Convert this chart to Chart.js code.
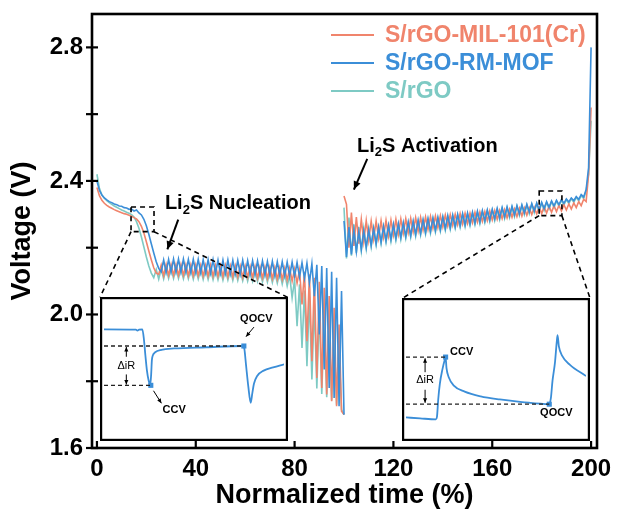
<!DOCTYPE html>
<html><head><meta charset="utf-8">
<script src="https://cdn.jsdelivr.net/npm/chart.js@4.4.1/dist/chart.umd.min.js"></script>
<style>
html,body{margin:0;padding:0;background:#fff;}
#wrap{position:relative;width:617px;height:516px;}
canvas{display:block;}
.inset{position:absolute;}
</style>
</head><body>
<div id="wrap"><canvas id="main" width="617" height="516"></canvas></div>
<script>
// ---------------- DATA ----------------
const seriesNames = ['S/rGO-MIL-101(Cr)', 'S/rGO-RM-MOF', 'S/rGO'];
const xTitle = 'Normalized time (%)';
const yTitle = 'Voltage (V)';
const xTickValues = [0, 40, 80, 120, 160, 200];
const yTickValues = [1.6, 1.8, 2.0, 2.2, 2.4, 2.6, 2.8];
const yLabelValues = [1.6, 2.0, 2.4, 2.8];

const dischargeX = [0,1,2,3,4,5,6,7,8,9,10,11,12,13,14,15,16,17,18,19,20,21,22,23,24,25,26,27,28,29,30,31,32,33,34,35,36,37,38,39,40,41,42,43,44,45,46,47,48,49,50,51,52,53,54,55,56,57,58,59,60,61,62,63,64,65,66,67,68,69,70,71,72,73,74,75,76,77,78,79,80,81,82,83,84,85,86,87,88,89,90,91,92,93,94,95,96,97,98,99,100];
const chargeX = [100,101,102,103,104,105,106,107,108,109,110,111,112,113,114,115,116,117,118,119,120,121,122,123,124,125,126,127,128,129,130,131,132,133,134,135,136,137,138,139,140,141,142,143,144,145,146,147,148,149,150,151,152,153,154,155,156,157,158,159,160,161,162,163,164,165,166,167,168,169,170,171,172,173,174,175,176,177,178,179,180,181,182,183,184,185,186,187,188,189,190,191,192,193,194,195,196,197,198,199,200];

const milDischarge = [2.380,2.356,2.342,2.333,2.327,2.322,2.318,2.314,2.311,2.308,
 2.305,2.302,2.300,2.297,2.294,2.290,2.286,2.278,2.264,2.244,
 2.218,2.190,2.164,2.140,2.124,2.120,2.148,2.116,2.150,2.117,
 2.150,2.117,2.150,2.117,2.150,2.117,2.149,2.116,2.149,2.116,
 2.149,2.116,2.148,2.115,2.148,2.115,2.148,2.114,2.147,2.114,
 2.147,2.113,2.147,2.113,2.146,2.112,2.146,2.112,2.145,2.111,
 2.145,2.111,2.144,2.110,2.144,2.109,2.143,2.109,2.143,2.108,
 2.142,2.107,2.141,2.106,2.140,2.105,2.139,2.103,2.138,2.100,
 2.136,2.094,2.133,2.030,2.128,1.920,2.120,1.860,2.110,1.810,
 2.098,1.780,2.080,1.760,2.055,1.740,2.020,1.725,1.970,1.710,
 1.700];
const rmDischarge = [2.400,2.372,2.358,2.349,2.343,2.338,2.335,2.331,2.329,2.325,
 2.324,2.320,2.319,2.315,2.316,2.310,2.313,2.304,2.298,2.285,
 2.266,2.240,2.212,2.184,2.158,2.138,2.128,2.163,2.126,2.165,
 2.127,2.166,2.127,2.166,2.127,2.166,2.127,2.165,2.126,2.165,
 2.126,2.165,2.125,2.164,2.125,2.164,2.124,2.164,2.124,2.163,
 2.123,2.163,2.123,2.163,2.122,2.162,2.122,2.162,2.121,2.162,
 2.121,2.161,2.120,2.161,2.120,2.160,2.119,2.160,2.119,2.159,
 2.118,2.159,2.117,2.158,2.117,2.158,2.116,2.157,2.115,2.157,
 2.114,2.156,2.112,2.155,2.108,2.154,2.095,2.152,2.055,2.149,
 1.940,2.145,1.835,2.139,1.780,2.128,1.750,2.110,1.725,2.070,
 1.700];
const rgoDischarge = [2.420,2.378,2.358,2.348,2.341,2.335,2.330,2.325,2.321,2.317,
 2.313,2.310,2.306,2.303,2.299,2.292,2.278,2.258,2.232,2.202,
 2.172,2.145,2.124,2.110,2.135,2.106,2.137,2.107,2.138,2.108,
 2.138,2.108,2.138,2.108,2.137,2.107,2.137,2.107,2.136,2.106,
 2.136,2.106,2.135,2.105,2.135,2.105,2.134,2.104,2.134,2.104,
 2.133,2.103,2.133,2.103,2.132,2.102,2.132,2.102,2.131,2.101,
 2.131,2.100,2.130,2.100,2.130,2.099,2.129,2.098,2.129,2.097,
 2.128,2.096,2.127,2.094,2.126,2.091,2.124,2.085,2.118,2.050,
 2.105,1.965,2.090,1.900,2.072,1.845,2.052,1.805,2.032,1.778,
 2.012,1.762,1.992,1.752,1.965,1.742,1.935,1.730,1.895,1.715,
 1.700];

const milCharge = [2.355,2.330,2.200,2.305,2.205,2.292,2.212,2.285,2.218,2.281,
 2.222,2.280,2.226,2.280,2.229,2.281,2.232,2.282,2.235,2.283,
 2.238,2.285,2.240,2.286,2.243,2.287,2.245,2.288,2.248,2.290,
 2.250,2.291,2.253,2.292,2.255,2.294,2.258,2.295,2.260,2.296,
 2.262,2.298,2.265,2.299,2.267,2.300,2.269,2.302,2.271,2.303,
 2.273,2.304,2.275,2.306,2.277,2.307,2.279,2.308,2.281,2.310,
 2.283,2.311,2.285,2.312,2.287,2.314,2.289,2.315,2.291,2.316,
 2.293,2.318,2.295,2.319,2.297,2.320,2.299,2.321,2.301,2.322,
 2.302,2.323,2.304,2.324,2.306,2.326,2.308,2.327,2.310,2.329,
 2.313,2.331,2.316,2.334,2.320,2.338,2.326,2.345,2.338,2.420,
 2.620];
const rmCharge = [2.280,2.172,2.262,2.180,2.252,2.188,2.248,2.195,2.250,2.201,
 2.253,2.207,2.257,2.212,2.261,2.217,2.264,2.221,2.267,2.225,
 2.270,2.228,2.272,2.231,2.275,2.234,2.277,2.237,2.280,2.240,
 2.282,2.243,2.284,2.246,2.287,2.249,2.289,2.252,2.291,2.254,
 2.293,2.257,2.296,2.260,2.298,2.263,2.300,2.266,2.302,2.268,
 2.304,2.271,2.306,2.274,2.309,2.277,2.311,2.280,2.313,2.283,
 2.315,2.286,2.318,2.289,2.320,2.292,2.322,2.295,2.324,2.298,
 2.326,2.301,2.328,2.304,2.330,2.307,2.332,2.310,2.334,2.313,
 2.336,2.317,2.338,2.321,2.340,2.325,2.342,2.329,2.344,2.333,
 2.346,2.337,2.349,2.341,2.353,2.345,2.359,2.352,2.374,2.440,
 2.800];
const rgoCharge = [2.320,2.168,2.290,2.176,2.270,2.184,2.262,2.191,2.258,2.197,
 2.257,2.203,2.258,2.208,2.260,2.212,2.262,2.216,2.264,2.219,
 2.266,2.222,2.268,2.225,2.270,2.228,2.272,2.231,2.275,2.234,
 2.277,2.237,2.279,2.240,2.282,2.243,2.284,2.246,2.286,2.249,
 2.289,2.252,2.291,2.255,2.293,2.258,2.296,2.261,2.298,2.263,
 2.300,2.266,2.303,2.269,2.305,2.272,2.307,2.275,2.310,2.278,
 2.312,2.281,2.314,2.284,2.317,2.287,2.319,2.290,2.321,2.293,
 2.324,2.296,2.326,2.299,2.328,2.302,2.330,2.305,2.332,2.308,
 2.334,2.312,2.336,2.316,2.338,2.320,2.340,2.324,2.342,2.328,
 2.344,2.332,2.347,2.336,2.351,2.340,2.356,2.347,2.370,2.420,
 2.580];

// Zoom boxes (data units of main chart) and inset placement (data units)
const zoomBox1 = {x0: 13.8, x1: 23.1, y0: 2.248, y1: 2.322};
const zoomBox2 = {x0: 179.0, x1: 188.2, y0: 2.296, y1: 2.370};
const insetBox1 = {x0: 1.2, x1: 77.3, y0: 1.621, y1: 2.051};
const insetBox2 = {x0: 123.5, x1: 199.6, y0: 1.621, y1: 2.048};

// Inset 1 (discharge pulse), normalized 0-100 units
const inset1CurveX = [0,17.7,18.6,19.5,21.3,22.2,23.0,23.9,24.8,25.7,26.2,26.6,27.1,28.4,31.9,39.0,56.7,77.1,78.0,78.9,80.2,81.5,82.4,83.3,85.1,88.7,94.0,100];
const inset1CurveY = [79.2,79.0,78.2,79.0,79.2,71.5,59.9,48.4,41.5,38.4,46.0,56.5,59.9,62.3,64.1,65.1,66.0,66.9,64.6,53.0,36.8,25.2,32.2,39.1,44.9,48.8,51.2,53.5];
const inset1MarkX = [26.0, 77.7];
const inset1MarkY = [38.0, 66.9];
// Inset 2 (charge pulse)
const inset2CurveX = [0,7.8,16.6,17.2,17.9,18.8,20.2,21.6,22.0,22.5,23.8,26.4,32.6,41.5,52.1,64.5,79.6,80.5,81.4,82.8,83.7,84.2,84.9,86.7,91.1,100];
const inset2CurveY = [14.5,13.8,13.1,14.9,27.8,39.4,49.9,57.6,59.2,51.0,44.1,38.3,33.6,30.1,27.8,25.9,24.3,28.9,41.7,55.7,69.7,75.5,67.3,60.3,53.4,45.2];
const inset2MarkX = [22.0, 79.6];
const inset2MarkY = [59.2, 24.3];

// ---------------- STYLE ----------------
const FONT = '"Liberation Sans", Arial, Helvetica, sans-serif';
const C_MIL = '#F0846C';
const C_RM = '#3B8ED8';
const C_RGO = '#7ECAC4';
const seriesColors = [C_MIL, C_RM, C_RGO];

function pts(xs, ys) { return xs.map((x, i) => ({x: x, y: ys[i]})); }
function series(dY, cY) { return pts(dischargeX, dY).concat([{x: 100, y: null}], pts(chargeX, cY)); }

function arrow(ctx, x1, y1, x2, y2, head, width) {
  ctx.save();
  ctx.lineWidth = width;
  ctx.beginPath(); ctx.moveTo(x1, y1); ctx.lineTo(x2, y2); ctx.stroke();
  const ang = Math.atan2(y2 - y1, x2 - x1);
  ctx.beginPath();
  ctx.moveTo(x2, y2);
  ctx.lineTo(x2 - head * Math.cos(ang - 0.42), y2 - head * Math.sin(ang - 0.42));
  ctx.lineTo(x2 - head * Math.cos(ang + 0.42), y2 - head * Math.sin(ang + 0.42));
  ctx.closePath(); ctx.fill();
  ctx.restore();
}
function subText(ctx, parts, x, y, size) {
  let cx = x;
  parts.forEach(p => {
    if (p.sub) {
      ctx.font = 'bold ' + Math.round(size * 0.65) + 'px ' + FONT;
      ctx.fillText(p.t, cx, y + size * 0.33);
    } else {
      ctx.font = 'bold ' + size + 'px ' + FONT;
      ctx.fillText(p.t, cx, y);
    }
    cx += ctx.measureText(p.t).width;
  });
}

const decor = {
  id: 'decor',
  afterDatasetsDraw(chart) {
    const {ctx, chartArea: a, scales: {x, y}} = chart;
    ctx.save();
    ctx.strokeStyle = '#000'; ctx.fillStyle = '#000';
    // frame
    ctx.lineWidth = 2.6;
    ctx.strokeRect(a.left, a.top, a.right - a.left, a.bottom - a.top);
    // ticks
    ctx.lineWidth = 2.2;
    yTickValues.forEach(v => {
      const py = y.getPixelForValue(v);
      ctx.beginPath(); ctx.moveTo(a.left - 6, py); ctx.lineTo(a.left + 6, py); ctx.stroke();
    });
    xTickValues.forEach(v => {
      const px = x.getPixelForValue(v);
      ctx.beginPath(); ctx.moveTo(px, a.bottom); ctx.lineTo(px, a.bottom - 7); ctx.stroke();
    });
    // zoom boxes + connectors
    ctx.lineWidth = 1.6; ctx.setLineDash([5, 4]);
    [[zoomBox1, insetBox1], [zoomBox2, insetBox2]].forEach(([b, ib]) => {
      const l = x.getPixelForValue(b.x0), r = x.getPixelForValue(b.x1);
      const t = y.getPixelForValue(b.y1), bt = y.getPixelForValue(b.y0);
      ctx.strokeRect(l, t, r - l, bt - t);
      const il = x.getPixelForValue(ib.x0), ir = x.getPixelForValue(ib.x1), it = y.getPixelForValue(ib.y1);
      ctx.beginPath(); ctx.moveTo(l, bt); ctx.lineTo(il, it); ctx.stroke();
      ctx.beginPath(); ctx.moveTo(r, bt); ctx.lineTo(ir, it); ctx.stroke();
    });
    ctx.setLineDash([]);
    // annotations
    ctx.textBaseline = 'middle'; ctx.textAlign = 'left';
    subText(ctx, [{t: 'Li'}, {t: '2', sub: true}, {t: 'S Nucleation'}], x.getPixelForValue(27.5), y.getPixelForValue(2.331), 20);
    subText(ctx, [{t: 'Li'}, {t: '2', sub: true}, {t: 'S Activation'}], x.getPixelForValue(105.3), y.getPixelForValue(2.504), 20);
    arrow(ctx, x.getPixelForValue(32.9), y.getPixelForValue(2.284), x.getPixelForValue(28.5), y.getPixelForValue(2.195), 9, 2);
    arrow(ctx, x.getPixelForValue(109.4), y.getPixelForValue(2.466), x.getPixelForValue(104.0), y.getPixelForValue(2.374), 9, 2);
    // legend
    [0, 1, 2].forEach((k, i) => {
      const ly = 35 + i * 28;
      ctx.strokeStyle = seriesColors[k]; ctx.lineWidth = 2;
      ctx.beginPath(); ctx.moveTo(331, ly); ctx.lineTo(374, ly); ctx.stroke();
      ctx.fillStyle = seriesColors[k];
      ctx.font = 'bold 23px ' + FONT;
      ctx.fillText(seriesNames[k], 385, ly + 1);
    });
    ctx.restore();
  }
};

const mainChart = new Chart(document.getElementById('main'), {
  type: 'line',
  data: {
    datasets: [
      {label: seriesNames[0], data: series(milDischarge, milCharge), borderColor: C_MIL, order: 1},
      {label: seriesNames[1], data: series(rmDischarge, rmCharge), borderColor: C_RM, order: 0},
      {label: seriesNames[2], data: series(rgoDischarge, rgoCharge), borderColor: C_RGO, order: 2}
    ].map(d => Object.assign(d, {borderWidth: 1.6, pointRadius: 0, tension: 0, spanGaps: false, fill: false}))
  },
  options: {
    responsive: false, animation: false, devicePixelRatio: 1,
    layout: {padding: {top: 14, right: 20, left: 0, bottom: 0}},
    plugins: {legend: {display: false}, tooltip: {enabled: false}},
    scales: {
      x: {
        type: 'linear', min: -2, max: 202.4,
        grid: {display: false, drawTicks: false}, border: {display: false},
        afterBuildTicks: s => { s.ticks = xTickValues.map(v => ({value: v})); },
        afterFit: s => { s.height = 68; s.paddingLeft = 0; s.paddingRight = 0; },
        ticks: {autoSkip: false, maxRotation: 0, padding: 7, color: '#000',
          font: {family: FONT, size: 24, weight: 'bold'}, callback: v => String(v)},
        title: {display: true, text: xTitle, color: '#000',
          font: {family: FONT, size: 27, weight: 'bold', lineHeight: 1.2}, padding: {top: 0, bottom: 4}}
      },
      y: {
        type: 'linear', min: 1.6, max: 2.9,
        grid: {display: false, drawTicks: false}, border: {display: false},
        afterBuildTicks: s => { s.ticks = yTickValues.map(v => ({value: v})); },
        afterFit: s => { s.width = 92; s.paddingTop = 0; s.paddingBottom = 0; },
        ticks: {autoSkip: false, padding: 9, color: '#000',
          font: {family: FONT, size: 24, weight: 'bold'},
          callback: v => yLabelValues.some(l => Math.abs(l - v) < 1e-6) ? v.toFixed(1) : ''},
        title: {display: true, text: yTitle, color: '#000',
          font: {family: FONT, size: 27, weight: 'bold', lineHeight: 1.2}, padding: {top: 6, bottom: 0}}
      }
    }
  },
  plugins: [decor]
});

// ---------------- INSETS ----------------
function makeInset(box, cx, cy, mx, my, notes) {
  const xs = mainChart.scales.x, ys = mainChart.scales.y;
  const left = Math.round(xs.getPixelForValue(box.x0));
  const right = Math.round(xs.getPixelForValue(box.x1));
  const top = Math.round(ys.getPixelForValue(box.y1));
  const bottom = Math.round(ys.getPixelForValue(box.y0));
  const cv = document.createElement('canvas');
  cv.className = 'inset';
  cv.width = right - left; cv.height = bottom - top;
  cv.style.left = left + 'px'; cv.style.top = top + 'px';
  document.getElementById('wrap').appendChild(cv);
  const insetDecor = {
    id: 'insetDecor',
    beforeDraw(ch) {
      const c = ch.ctx; c.save(); c.fillStyle = '#fff'; c.fillRect(0, 0, ch.width, ch.height); c.restore();
    },
    afterDraw(ch) {
      const c = ch.ctx, sx = ch.scales.x, sy = ch.scales.y;
      c.save();
      c.strokeStyle = '#000'; c.fillStyle = '#000';
      c.lineWidth = 2.2; c.strokeRect(1.1, 1.1, ch.width - 2.2, ch.height - 2.2);
      c.textBaseline = 'middle'; c.textAlign = 'center';
      notes.texts.forEach(t => {
        c.font = (t.bold ? 'bold ' : '') + '11px ' + FONT;
        c.fillText(t.s, sx.getPixelForValue(t.x), sy.getPixelForValue(t.y));
      });
      notes.arrows.forEach(ar => {
        arrow(c, sx.getPixelForValue(ar[0]), sy.getPixelForValue(ar[1]), sx.getPixelForValue(ar[2]), sy.getPixelForValue(ar[3]), 5, 1);
      });
      c.restore();
    }
  };
  return new Chart(cv, {
    type: 'line',
    data: {datasets: [
      {data: pts([0, notes.upperEnd], [notes.upperY, notes.upperY]),
       borderColor: '#222', borderWidth: 1.3, borderDash: [4, 3], pointRadius: 0},
      {data: pts([0, notes.lowerEnd], [notes.lowerY, notes.lowerY]),
       borderColor: '#222', borderWidth: 1.3, borderDash: [4, 3], pointRadius: 0},
      {data: pts(cx, cy), borderColor: C_RM, borderWidth: 1.8, pointRadius: 0, cubicInterpolationMode: 'monotone'},
      {data: pts(mx, my), showLine: false, pointStyle: 'rect', pointRadius: 3.6, backgroundColor: C_RM, borderColor: C_RM, borderWidth: 0}
    ]},
    options: {
      responsive: false, animation: false, devicePixelRatio: 1,
      layout: {padding: 0},
      plugins: {legend: {display: false}, tooltip: {enabled: false}},
      scales: {x: {type: 'linear', min: 0, max: 100, display: false}, y: {min: 0, max: 100, display: false}}
    },
    plugins: [insetDecor]
  });
}

makeInset(insetBox1, inset1CurveX, inset1CurveY, inset1MarkX, inset1MarkY, {
  upperEnd: inset1MarkX[1], upperY: inset1MarkY[1], lowerEnd: inset1MarkX[0], lowerY: inset1MarkY[0],
  texts: [{s: '\u0394iR', x: 12.4, y: 52.5}, {s: 'QOCV', x: 84.6, y: 86.6, bold: true}, {s: 'CCV', x: 39.0, y: 20.1, bold: true}],
  arrows: [[12.4, 59, 12.4, 66.2], [12.4, 46, 12.4, 38.6], [83.3, 80.8, 78.9, 73.8], [27.5, 34.0, 31.9, 24.8]]
});
makeInset(insetBox2, inset2CurveX, inset2CurveY, inset2MarkX, inset2MarkY, {
  upperEnd: inset2MarkX[0], upperY: inset2MarkY[0], lowerEnd: inset2MarkX[1], lowerY: inset2MarkY[1],
  texts: [{s: '\u0394iR', x: 10.6, y: 41.9}, {s: 'CCV', x: 30.9, y: 62.9, bold: true}, {s: 'QOCV', x: 83.5, y: 17.5, bold: true}],
  arrows: [[10.6, 48, 10.6, 58.3], [10.6, 35, 10.6, 25.3]]
});
</script>
</body></html>
